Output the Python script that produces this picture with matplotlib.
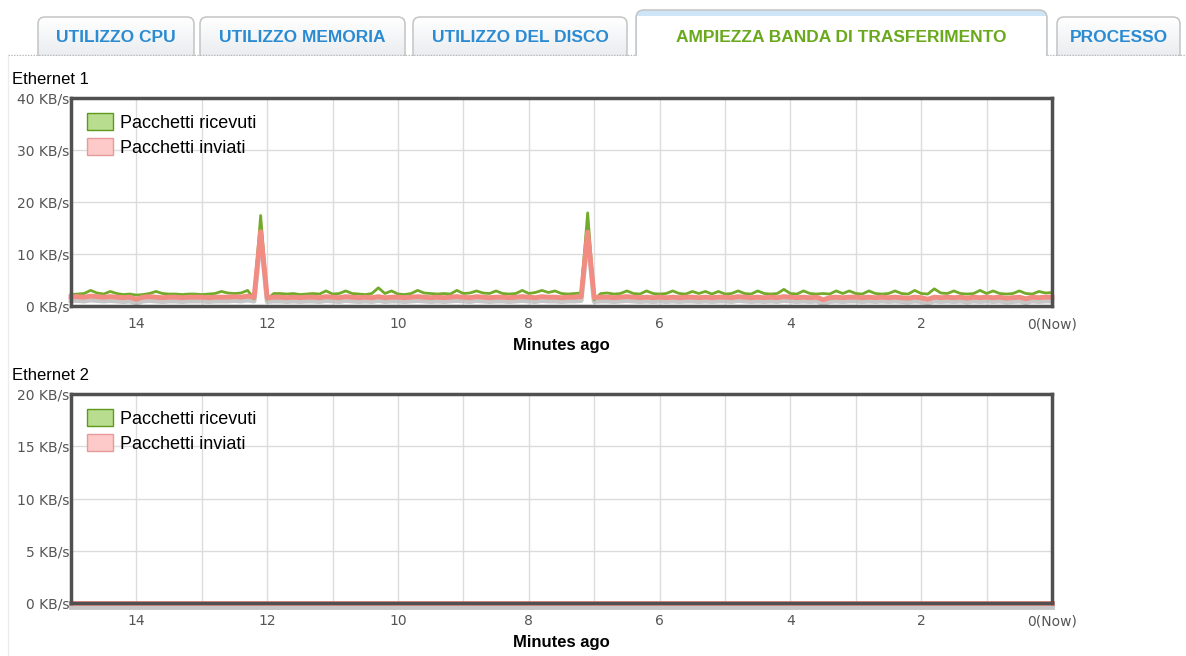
import matplotlib.pyplot as plt
import numpy as np
from matplotlib.patches import FancyBboxPatch, Rectangle, Patch
from matplotlib.colors import LinearSegmentedColormap
from matplotlib.transforms import offset_copy

W, H = 1186, 656

# tabs
tab_labels = ['UTILIZZO CPU', 'UTILIZZO MEMORIA', 'UTILIZZO DEL DISCO',
              'AMPIEZZA BANDA DI TRASFERIMENTO', 'PROCESSO']
active_tab = 3

# samples every 6 s, from 15 minutes ago to now
mins = np.round(np.arange(150, -1, -1) / 10, 1)

# Ethernet 1, KB/s
eth1_rx = [2.2, 2.3, 2.4, 3.0, 2.5, 2.3, 2.8, 2.4, 2.2, 2.3,   # 15.0 - 14.1
           2.1, 2.2, 2.4, 2.8, 2.4, 2.3, 2.3, 2.2, 2.3, 2.3,   # 14.0 - 13.1
           2.2, 2.3, 2.4, 2.8, 2.5, 2.4, 2.5, 3.0, 1.4, 17.4,  # 13.0 - 12.1
           1.3, 2.4, 2.4, 2.3, 2.4, 2.2, 2.3, 2.4, 2.3, 2.9,   # 12.0 - 11.1
           2.3, 2.4, 2.9, 2.4, 2.3, 2.2, 2.4, 3.5, 2.4, 2.9,   # 11.0 - 10.1
           2.3, 2.2, 2.4, 3.0, 2.5, 2.4, 2.3, 2.4, 2.3, 3.0,   # 10.0 - 9.1
           2.4, 2.5, 2.9, 2.5, 2.4, 2.9, 2.4, 2.3, 2.4, 3.0,   # 9.0 - 8.1
           2.4, 2.6, 3.0, 2.6, 2.9, 2.4, 2.3, 2.4, 2.5, 17.9,  # 8.0 - 7.1
           1.2, 2.4, 2.5, 2.3, 2.4, 2.9, 2.4, 2.3, 2.9, 2.4,   # 7.0 - 6.1
           2.3, 2.4, 2.9, 2.4, 2.3, 2.8, 2.4, 2.8, 2.3, 2.8,   # 6.0 - 5.1
           2.3, 2.4, 2.9, 2.4, 2.3, 2.9, 2.4, 2.3, 2.4, 3.2,   # 5.0 - 4.1
           2.4, 2.3, 2.9, 2.4, 2.3, 2.4, 2.3, 2.9, 2.4, 2.9,   # 4.0 - 3.1
           2.4, 2.3, 2.9, 2.4, 2.3, 2.4, 2.9, 2.4, 2.3, 3.0,   # 3.0 - 2.1
           2.4, 2.3, 3.3, 2.5, 2.4, 2.9, 2.4, 2.3, 2.4, 3.0,   # 2.0 - 1.1
           2.4, 2.9, 2.4, 2.3, 2.4, 2.9, 2.4, 2.3, 2.8, 2.5,   # 1.0 - 0.1
           2.6]
eth1_tx = [1.8, 1.8, 1.7, 1.9, 1.8, 1.7, 1.8, 1.7, 1.6, 1.7,
           1.3, 1.7, 1.8, 1.7, 1.6, 1.7, 1.7, 1.6, 1.7, 1.7,
           1.7, 1.6, 1.7, 1.7, 1.7, 1.8, 1.7, 1.9, 1.7, 14.3,
           1.6, 1.7, 1.7, 1.6, 1.7, 1.6, 1.7, 1.7, 1.6, 1.8,
           1.7, 1.6, 1.8, 1.7, 1.6, 1.7, 1.6, 1.8, 1.6, 1.7,
           1.7, 1.6, 1.7, 1.8, 1.7, 1.6, 1.7, 1.6, 1.7, 1.8,
           1.7, 1.6, 1.8, 1.7, 1.6, 1.7, 1.7, 1.6, 1.7, 1.8,
           1.7, 1.6, 1.8, 1.7, 1.7, 1.6, 1.7, 1.7, 1.8, 14.2,
           1.6, 1.7, 1.7, 1.6, 1.7, 1.8, 1.7, 1.6, 1.7, 1.6,
           1.7, 1.6, 1.7, 1.6, 1.7, 1.7, 1.6, 1.7, 1.6, 1.7,
           1.7, 1.6, 1.8, 1.7, 1.6, 1.7, 1.6, 1.7, 1.6, 1.8,
           1.7, 1.6, 1.7, 1.6, 1.7, 1.2, 1.6, 1.7, 1.6, 1.7,
           1.7, 1.6, 1.7, 1.6, 1.7, 1.6, 1.7, 1.6, 1.5, 1.7,
           1.6, 1.3, 1.7, 1.6, 1.7, 1.6, 1.7, 1.5, 1.7, 1.6,
           1.7, 1.6, 1.7, 1.5, 1.6, 1.7, 1.4, 1.7, 1.6, 1.7,
           1.7]

# Ethernet 2 is flat, one reading per minute
eth2_mins = [15, 14, 13, 12, 11, 10, 9, 8, 7, 6, 5, 4, 3, 2, 1, 0]
eth2_rx = [0, 0, 0, 0, 0, 0, 0, 0, 0, 0, 0, 0, 0, 0, 0, 0]
eth2_tx = [0, 0, 0, 0, 0, 0, 0, 0, 0, 0, 0, 0, 0, 0, 0, 0]

x_ticks = [14, 12, 10, 8, 6, 4, 2, 0]
x_labels = ['14', '12', '10', '8', '6', '4', '2', '0(Now)']

plt.rcParams['font.family'] = ['DejaVu Sans']
SANS = ['Liberation Sans', 'DejaVu Sans']

fig = plt.figure(figsize=(W / 100, H / 100), dpi=100)

# page decoration drawn in pixel coordinates
bg = fig.add_axes([0, 0, 1, 1])
bg.axis('off')

tab_x = [(38, 194), (200, 405), (413, 627), (636, 1047), (1057, 1180)]
grad_cmap = LinearSegmentedColormap.from_list('tab', ['#ffffff', '#e4e7eb'])
grad = np.linspace(0, 1, 64).reshape(-1, 1)
for i, (label, (x0, x1)) in enumerate(zip(tab_labels, tab_x)):
    if i == active_tab:
        continue
    p = FancyBboxPatch((x0, 17), x1 - x0, 50, boxstyle='round,pad=0,rounding_size=7',
                       facecolor='none', edgecolor='#c4c4c4', lw=1.1, zorder=2)
    bg.add_patch(p)
    im = bg.imshow(grad, cmap=grad_cmap, extent=(x0, x1, 67, 17), origin='upper',
                   aspect='auto', zorder=1)
    im.set_clip_path(p)
    bg.text((x0 + x1) / 2, 37, label, ha='center', va='center', fontsize=12.5,
            fontweight='bold', color='#2a8bd2', family=SANS, zorder=3)

bg.add_patch(Rectangle((0, 55.5), W, 14, facecolor='white', edgecolor='none', zorder=4))
bg.plot([8, W], [55, 55], color='#b8b8b8', lw=1, ls=(0, (1, 1)), zorder=5)

x0, x1 = tab_x[active_tab]
bg.add_patch(FancyBboxPatch((x0, 10), x1 - x0, 56, boxstyle='round,pad=0,rounding_size=8',
                            facecolor='#cde5f7', edgecolor='#c4c4c4', lw=1.1, zorder=6))
bg.add_patch(Rectangle((x0 + 0.8, 16), x1 - x0 - 1.6, 50, facecolor='white',
                       edgecolor='none', zorder=7))
bg.add_patch(Rectangle((0, 56), W, 13, facecolor='white', edgecolor='none', zorder=8))
bg.text((x0 + x1) / 2, 37, tab_labels[active_tab], ha='center', va='center', fontsize=12.5,
        fontweight='bold', color='#6aa81c', family=SANS, zorder=9)
bg.plot([8, 8], [56, H], color='#ececec', lw=1, zorder=9)

bg.text(12, 80, 'Ethernet 1', ha='left', va='center', fontsize=12, family=SANS, zorder=9)
bg.text(12, 376, 'Ethernet 2', ha='left', va='center', fontsize=12, family=SANS, zorder=9)
bg.set_xlim(0, W)
bg.set_ylim(H, 0)


def px_rect(l, t, r, b):
    return [l / W, 1 - b / H, (r - l) / W, (b - t) / H]


def draw_chart(ax, t, rx, tx, ymax, ystep):
    shadow = offset_copy(ax.transData, fig=fig, x=0, y=-2.8, units='points')
    ax.plot(t, tx, color='#b4b4b4', lw=3.5, alpha=0.75, transform=shadow,
            zorder=1.5, clip_on=False)
    ax.plot(t, rx, color='#74aa2a', lw=2, zorder=2, clip_on=False)
    ax.plot(t, tx, color='#f28c82', lw=3.5, zorder=2.2, clip_on=False)
    ax.set_xlim(15, 0)
    ax.set_ylim(0, ymax)
    ax.set_xticks(x_ticks)
    ax.set_xticklabels(x_labels)
    ax.set_xticks(range(16), minor=True)
    yt = list(range(0, ymax + 1, ystep))
    ax.set_yticks(yt)
    ax.set_yticklabels([f'{v} KB/s' for v in yt])
    ax.grid(True, which='both', axis='x', color='#dcdcdc', lw=1)
    ax.grid(True, which='major', axis='y', color='#dcdcdc', lw=1)
    ax.set_axisbelow(True)
    ax.tick_params(which='both', length=0, labelsize=10, labelcolor='#555555')
    ax.tick_params(axis='x', pad=8)
    ax.tick_params(axis='y', pad=1)
    for s in ax.spines.values():
        s.set_color('#505050')
        s.set_linewidth(2.5)
    ax.set_xlabel('Minutes ago', fontsize=12, fontweight='bold', family=SANS, labelpad=5)
    handles = [Patch(facecolor='#b9dd8f', edgecolor='#5d9a1a', lw=1),
               Patch(facecolor='#fdc9c9', edgecolor='#e89a9a', lw=1)]
    ax.legend(handles, ['Pacchetti ricevuti', 'Pacchetti inviati'], loc='upper left',
              bbox_to_anchor=(0.0, 1.005), frameon=False, handlelength=1.45,
              handleheight=1.05, handletextpad=0.35, labelspacing=0.35,
              prop={'family': SANS, 'size': 13})


ax1 = fig.add_axes(px_rect(71, 98, 1052, 306))
draw_chart(ax1, mins, eth1_rx, eth1_tx, 40, 10)

ax2 = fig.add_axes(px_rect(71, 394, 1052, 603))
draw_chart(ax2, eth2_mins, eth2_rx, eth2_tx, 20, 5)

fig.savefig('out.png', dpi=100, facecolor='white')
